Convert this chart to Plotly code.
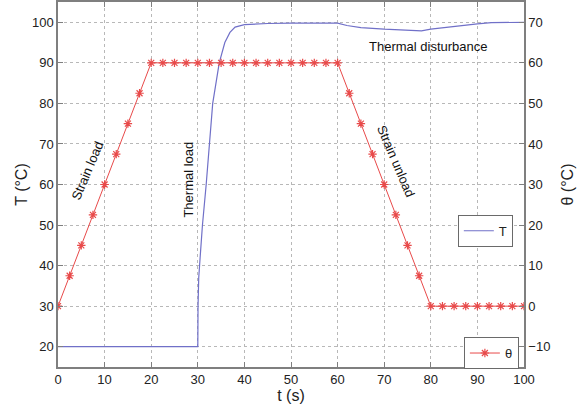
import plotly.graph_objects as go

# Strain angle theta (right axis), markers every 2.5 s
theta_t = [0, 2.5, 5, 7.5, 10, 12.5, 15, 17.5, 20, 22.5, 25, 27.5, 30, 32.5, 35, 37.5, 40,
           42.5, 45, 47.5, 50, 52.5, 55, 57.5, 60, 62.5, 65, 67.5, 70, 72.5, 75, 77.5, 80,
           82.5, 85, 87.5, 90, 92.5, 95, 97.5, 100]
theta_v = [0, 7.5, 15, 22.5, 30, 37.5, 45, 52.5, 60, 60, 60, 60, 60, 60, 60, 60, 60,
           60, 60, 60, 60, 60, 60, 60, 60, 52.5, 45, 37.5, 30, 22.5, 15, 7.5, 0,
           0, 0, 0, 0, 0, 0, 0, 0]

# Temperature T (left axis)
T_t = [0, 30, 30.05, 30.2, 30.5, 31, 31.8, 32.5, 33.2, 34.6, 35.8, 36.9, 38, 40, 45, 50, 60,
       62, 65, 70, 75, 78, 80, 85, 90, 93, 95, 100]
T_v = [20, 20, 30, 37, 42, 50, 60, 70, 80, 90, 95, 97.5, 98.8, 99.4, 99.7, 99.8, 99.8,
       99.2, 98.7, 98.3, 98.0, 97.9, 98.3, 99.0, 99.6, 99.9, 99.9, 100]

x_ticks = [0, 10, 20, 30, 40, 50, 60, 70, 80, 90, 100]
T_ticks = [20, 30, 40, 50, 60, 70, 80, 90, 100]
theta_ticks = [-10, 0, 10, 20, 30, 40, 50, 60, 70]

font = dict(family="Liberation Sans, Arial, sans-serif", size=13, color="#222222")
axis_col = "#7f7f7f"
grid_col = "#b8b8b8"

fig = go.Figure()
fig.add_trace(go.Scatter(x=T_t, y=T_v, mode="lines", name="T", showlegend=True,
                         line=dict(color="#7070c8", width=1.2), yaxis="y", legend="legend"))
fig.add_trace(go.Scatter(x=theta_t, y=theta_v, mode="lines+markers", name="θ", showlegend=True,
                         line=dict(color="#e84a4a", width=1),
                         marker=dict(symbol="asterisk-open", size=7,
                                     line=dict(color="#e83030", width=1.2)),
                         yaxis="y2", legend="legend2"))

ann = [
    dict(x=6.3, y=63.5, text="Strain load", textangle=-67),
    dict(x=28.1, y=61.2, text="Thermal load", textangle=-90),
    dict(x=72.5, y=65.6, text="Strain unload", textangle=67),
    dict(x=79.4, y=94.1, text="Thermal disturbance", textangle=0),
]
for a in ann:
    fig.add_annotation(x=a["x"], y=a["y"], xref="x", yref="y", text=a["text"],
                       textangle=a["textangle"], showarrow=False,
                       font=dict(family=font["family"], size=13, color="#111111"))

fig.update_layout(
    width=579, height=408,
    margin=dict(l=58, r=55, t=0, b=41),
    paper_bgcolor="white", plot_bgcolor="white",
    font=font,
    showlegend=True,
    xaxis=dict(range=[0, 100], tickvals=x_ticks, ticks="inside", ticklen=5,
               tickcolor=axis_col, showline=True, linecolor=axis_col, linewidth=1.5,
               mirror="ticks", showgrid=True, gridcolor=grid_col, griddash="dot",
               gridwidth=1, zeroline=False,
               title=dict(text="t (s)", standoff=0)),
    yaxis=dict(range=[15, 105], tickvals=T_ticks, ticks="inside", ticklen=5,
               tickcolor=axis_col, showline=True, linecolor=axis_col, linewidth=1.5,
               showgrid=True, gridcolor=grid_col, griddash="dot", gridwidth=1,
               zeroline=False, title=dict(text="T (°C)", standoff=0)),
    yaxis2=dict(range=[-15, 75], tickvals=theta_ticks, ticks="inside", ticklen=5,
                tickcolor=axis_col, overlaying="y", side="right", showline=True,
                linecolor=axis_col, linewidth=1.5, showgrid=False, zeroline=False,
                title=dict(text="θ (°C)", standoff=12)),
    legend=dict(x=0.858, y=0.417, xanchor="left", yanchor="top",
                bordercolor="#6a6a6a", borderwidth=1, bgcolor="white",
                font=dict(size=13), itemwidth=30, visible=True),
    legend2=dict(x=0.871, y=0.082, xanchor="left", yanchor="top",
                 bordercolor="#6a6a6a", borderwidth=1, bgcolor="white",
                 font=dict(size=13), itemwidth=30, visible=True),
)

fig.write_html("out.html")
